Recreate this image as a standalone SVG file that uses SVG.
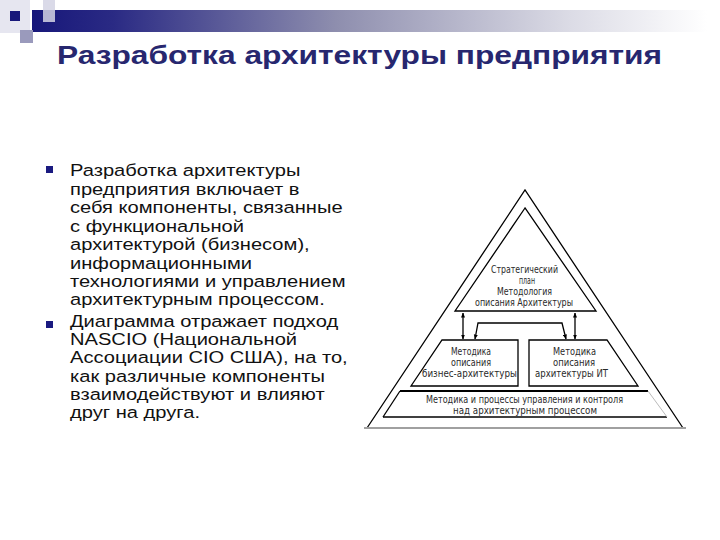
<svg xmlns="http://www.w3.org/2000/svg" width="720" height="540" viewBox="0 0 720 540">
<defs>
<linearGradient id="bar" x1="0" y1="0" x2="1" y2="0">
<stop offset="0" stop-color="#17177a"/>
<stop offset="0.12" stop-color="#2a2a84"/>
<stop offset="0.45" stop-color="#8e8eae"/>
<stop offset="0.8" stop-color="#dcdce6"/>
<stop offset="1" stop-color="#ffffff"/>
</linearGradient>
<marker id="ah" viewBox="0 0 10 10" refX="9" refY="5" markerWidth="5" markerHeight="5" orient="auto-start-reverse" markerUnits="userSpaceOnUse">
<path d="M0,1 L10,5 L0,9 z" fill="#000"/>
</marker>
<style>
.title{font-family:"Liberation Sans",Arial,sans-serif;font-weight:bold;font-size:25px;fill:#27276f}
.body{font-family:"Liberation Sans",Arial,sans-serif;font-size:16.5px;fill:#111}
.lab{font-family:"DejaVu Sans","Liberation Sans",sans-serif;font-size:10.5px;fill:#2a2a2a}
.ln{fill:none;stroke:#000;stroke-width:1.3}
.bul{fill:#1a1a80}
</style>
</defs>
<rect width="720" height="540" fill="#fff"/>
<g id="decor">
<rect x="0" y="0" width="30" height="33" fill="#e6e6f0"/>
<rect x="32" y="10" width="675" height="22" fill="url(#bar)"/>
<rect x="43" y="0" width="12" height="22" fill="#d4d4e4" opacity="0.85"/>
<rect x="20" y="30" width="13" height="13" fill="#9a9abc"/>
<rect x="10" y="11" width="10" height="10" fill="#17177a"/>
</g>
<g id="title">
<text class="title" x="57" y="64" textLength="605" lengthAdjust="spacingAndGlyphs">Разработка архитектуры предприятия</text>
</g>
<g id="bullets">
<rect class="bul" x="46" y="166" width="7" height="7"/>
<rect class="bul" x="46" y="321" width="7" height="7"/>
<g transform="translate(70,0) scale(1.22,1) translate(-70,0)">
<text class="body" x="70">
<tspan x="70" y="176">Разработка архитектуры</tspan>
<tspan x="70" y="195">предприятия включает в</tspan>
<tspan x="70" y="213">себя компоненты, связанные</tspan>
<tspan x="70" y="232">с функциональной</tspan>
<tspan x="70" y="250">архитектурой (бизнесом),</tspan>
<tspan x="70" y="269">информационными</tspan>
<tspan x="70" y="287">технологиями и управлением</tspan>
<tspan x="70" y="305">архитектурным процессом.</tspan>
<tspan x="70" y="327">Диаграмма отражает подход</tspan>
<tspan x="70" y="345">NASCIO (Национальной</tspan>
<tspan x="70" y="363">Ассоциации CIO США), на то,</tspan>
<tspan x="70" y="382">как различные компоненты</tspan>
<tspan x="70" y="400">взаимодействуют и влияют</tspan>
<tspan x="70" y="418">друг на друга.</tspan>
</text>
</g>
</g>
<g id="pyramid">
<polyline class="ln" points="367,428 525,190 683,428"/>
<line x1="364" y1="428" x2="686" y2="428" stroke="#a0a0a0" stroke-width="2"/>
</g>
<g id="node-top">
<polygon class="ln" points="525,208 455,311 596,311"/>
<text class="lab" x="491" y="273" textLength="67" lengthAdjust="spacingAndGlyphs">Стратегический</text>
<text class="lab" x="519" y="284" textLength="16" lengthAdjust="spacingAndGlyphs">план</text>
<text class="lab" x="497" y="295" textLength="55" lengthAdjust="spacingAndGlyphs">Методология</text>
<text class="lab" x="475" y="306" textLength="98" lengthAdjust="spacingAndGlyphs">описания Архитектуры</text>
</g>
<g id="node-business">
<polygon class="ln" points="442,340 518,340 518,386 411,386"/>
<text class="lab" x="451" y="355" textLength="40" lengthAdjust="spacingAndGlyphs">Методика</text>
<text class="lab" x="451" y="366" textLength="40" lengthAdjust="spacingAndGlyphs">описания</text>
<text class="lab" x="422" y="377" textLength="95" lengthAdjust="spacingAndGlyphs">бизнес-архитектуры</text>
</g>
<g id="node-it">
<polygon class="ln" points="529,340 607,340 638,386 529,386"/>
<text class="lab" x="553" y="355" textLength="43" lengthAdjust="spacingAndGlyphs">Методика</text>
<text class="lab" x="553" y="366" textLength="42" lengthAdjust="spacingAndGlyphs">описания</text>
<text class="lab" x="535" y="377" textLength="73" lengthAdjust="spacingAndGlyphs">архитектуры ИТ</text>
</g>
<g id="node-control">
<line x1="400" y1="391" x2="648" y2="391" stroke="#000" stroke-width="2"/>
<line x1="383" y1="417" x2="667" y2="417" stroke="#000" stroke-width="1.3"/>
<line x1="400" y1="391" x2="383" y2="417" stroke="#000" stroke-width="1.3"/>
<line x1="648" y1="391" x2="667" y2="417" stroke="#bbb" stroke-width="1"/>
<text class="lab" x="426" y="403" textLength="197" lengthAdjust="spacingAndGlyphs">Методика и процессы управления и контроля</text>
<text class="lab" x="453" y="414" textLength="144" lengthAdjust="spacingAndGlyphs">над архитектурным процессом</text>
</g>
<g id="connectors" fill="none" stroke="#000" stroke-width="1.3">
<line x1="463" y1="313" x2="463" y2="339" marker-start="url(#ah)" marker-end="url(#ah)"/>
<line x1="575" y1="313" x2="575" y2="339" marker-start="url(#ah)" marker-end="url(#ah)"/>
<polyline points="475,339 478,323 562,323 566,339" marker-start="url(#ah)" marker-end="url(#ah)"/>
</g>
</svg>
